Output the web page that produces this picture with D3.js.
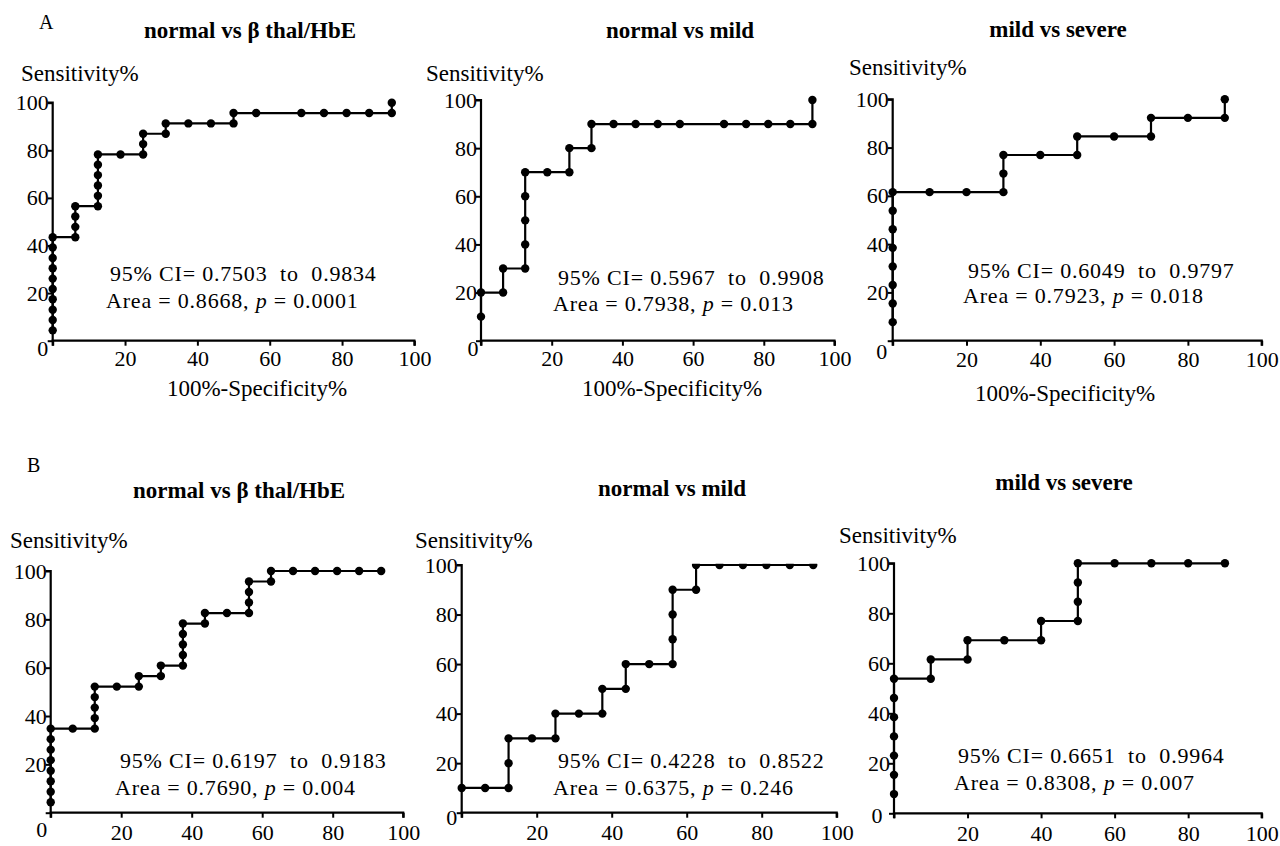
<!DOCTYPE html>
<html>
<head>
<meta charset="utf-8">
<script src="https://cdn.jsdelivr.net/npm/d3@7"></script>
<style>
  html, body { margin: 0; padding: 0; background: #fff; }
  svg { display: block; }
  text { font-family: "Liberation Serif", "Times New Roman", serif; fill: #000; }
</style>
</head>
<body>
<svg id="chart" width="1280" height="846" font-family="Liberation Serif, Times New Roman, serif"></svg>
<script>
// ---------- DATA ----------
const panelTitles = ["normal vs \u03b2 thal/HbE", "normal vs mild", "mild vs severe",
                     "normal vs \u03b2 thal/HbE", "normal vs mild", "mild vs severe"];
const rowLetters = ["A", "B"];
const yAxisTitle = "Sensitivity%";
const xAxisTitle = "100%-Specificity%";
const tickValues = [0, 20, 40, 60, 80, 100];

// 100% - specificity (x) and sensitivity (y) for each ROC curve
const a1Fpr = [0,0,0,0,0,0,0,0,0,0, 6.25,6.25,6.25,6.25, 12.5,12.5,12.5,12.5,12.5,12.5, 18.75, 25,25,25, 31.25,31.25, 37.5, 43.75, 50,50, 56.25, 68.75, 75, 81.25, 87.5, 93.75,93.75];
const a1Tpr = [4.35,8.70,13.04,17.39,21.74,26.09,30.43,34.78,39.13,43.48, 43.48,47.83,52.17,56.52, 56.52,60.87,65.22,69.57,73.91,78.26, 78.26, 78.26,82.61,86.96, 86.96,91.30, 91.30, 91.30, 91.30,95.65, 95.65, 95.65, 95.65, 95.65, 95.65, 95.65,100];

const a2Fpr = [0,0, 6.25,6.25, 12.5,12.5,12.5,12.5,12.5, 18.75, 25,25, 31.25,31.25, 37.5, 43.75, 50, 56.25, 68.75, 75, 81.25, 87.5, 93.75,93.75];
const a2Tpr = [10,20, 20,30, 30,40,50,60,70, 70, 70,80, 80,90, 90, 90, 90, 90, 90, 90, 90, 90, 90,100];

const a3Fpr = [0,0,0,0,0,0,0,0, 10, 20, 30,30,30, 40, 50,50, 60, 70,70, 80, 90,90];
const a3Tpr = [7.69,15.38,23.08,30.77,38.46,46.15,53.85,61.54, 61.54, 61.54, 61.54,69.23,76.92, 76.92, 76.92,84.62, 84.62, 84.62,92.31, 92.31, 92.31,100];

const b1Fpr = [0,0,0,0,0,0,0,0, 6.25, 12.5,12.5,12.5,12.5,12.5, 18.75, 25,25, 31.25,31.25, 37.5,37.5,37.5,37.5,37.5, 43.75,43.75, 50, 56.25,56.25,56.25,56.25, 62.5,62.5, 68.75, 75, 81.25, 87.5, 93.75];
const b1Tpr = [4.35,8.70,13.04,17.39,21.74,26.09,30.43,34.78, 34.78, 34.78,39.13,43.48,47.83,52.17, 52.17, 52.17,56.52, 56.52,60.87, 60.87,65.22,69.57,73.91,78.26, 78.26,82.61, 82.61, 82.61,86.96,91.30,95.65, 95.65,100, 100, 100, 100, 100, 100];

const b2Fpr = [0, 6.25, 12.5,12.5,12.5, 18.75, 25,25, 31.25, 37.5,37.5, 43.75,43.75, 50, 56.25,56.25,56.25,56.25, 62.5,62.5, 68.75, 75, 81.25, 87.5, 93.75];
const b2Tpr = [10, 10, 10,20,30, 30, 30,40, 40, 40,50, 50,60, 60, 60,70,80,90, 90,100, 100, 100, 100, 100, 100];

const b3Fpr = [0,0,0,0,0,0,0, 10,10, 20,20, 30, 40,40, 50,50,50,50, 60, 70, 80, 90];
const b3Tpr = [7.69,15.38,23.08,30.77,38.46,46.15,53.85, 53.85,61.54, 61.54,69.23, 69.23, 69.23,76.92, 76.92,84.62,92.31,100, 100, 100, 100, 100];

const ciLow  = ["0.7503", "0.5967", "0.6049", "0.6197", "0.4228", "0.6651"];
const ciHigh = ["0.9834", "0.9908", "0.9797", "0.9183", "0.8522", "0.9964"];
const areas  = ["0.8668", "0.7938", "0.7923", "0.7690", "0.6375", "0.8308"];
const pVals  = ["0.0001", "0.013", "0.018", "0.004", "0.246", "0.007"];

const fprSets = [a1Fpr, a2Fpr, a3Fpr, b1Fpr, b2Fpr, b3Fpr];
const tprSets = [a1Tpr, a2Tpr, a3Tpr, b1Tpr, b2Tpr, b3Tpr];

// ---------- LAYOUT (pixel geometry of each panel) ----------
const layout = [
  {x0:52.7, x1:414.4, y0:340.7, y1:102.7, tx:250, ty:30, sx:21, sy:73, spx:257, spy:388, ciX:110, ciY:273, arX:106, arY:300, zero:[-10,8], pad:5, clip:false},
  {x0:481,  x1:834.5, y0:340.7, y1:100,   tx:680, ty:30, sx:426, sy:73, spx:672, spy:388, ciX:558, ciY:277, arX:553, arY:303, zero:[-8,8], pad:5, clip:false},
  {x0:892.7,x1:1261.7,y0:340.7, y1:99.3,  tx:1058,ty:29, sx:849, sy:67, spx:1065, spy:393, ciX:968, ciY:270, arX:963, arY:295, zero:[-11,11], pad:6, clip:false},
  {x0:50.7, x1:403.2, y0:812.7, y1:571,   tx:239, ty:490, sx:10, sy:540, spx:null, spy:null, ciX:120, ciY:760, arX:115, arY:787, zero:[-9,17], pad:7, clip:false},
  {x0:461.7,x1:836.7, y0:812.7, y1:565,   tx:672, ty:488, sx:415, sy:540, spx:null, spy:null, ciX:558, ciY:760, arX:553, arY:787, zero:[-10,5], pad:7, clip:true},
  {x0:894,  x1:1261.7,y0:813.3, y1:563.3, tx:1064,ty:482, sx:839, sy:535, spx:null, spy:null, ciX:958, ciY:755, arX:954, arY:782, zero:[-17,2], pad:7, clip:false}
];
const letterPos = [[39, 22], [27, 465]];

// ---------- DRAW ----------
const svg = d3.select("#chart");
const defs = svg.append("defs");
const SERIF = "Liberation Serif, Times New Roman, serif";

rowLetters.forEach((L, i) => {
  svg.append("text").attr("x", letterPos[i][0]).attr("y", letterPos[i][1])
    .attr("dy", "0.35em").attr("font-size", 20).text(L);
});

layout.forEach((p, i) => {
  const x = d3.scaleLinear().domain([0, 100]).range([p.x0, p.x1]);
  const y = d3.scaleLinear().domain([0, 100]).range([p.y0, p.y1]);
  const g = svg.append("g");

  // title
  g.append("text").attr("x", p.tx).attr("y", p.ty).attr("dy", "0.35em")
    .attr("text-anchor", "middle").attr("font-size", 23).attr("font-weight", "bold")
    .text(panelTitles[i]);

  // y axis title
  g.append("text").attr("x", p.sx).attr("y", p.sy).attr("dy", "0.35em")
    .attr("font-size", 23).text(yAxisTitle);

  // x axis title
  if (p.spx !== null) {
    g.append("text").attr("x", p.spx).attr("y", p.spy).attr("dy", "0.35em")
      .attr("text-anchor", "middle").attr("font-size", 23).text(xAxisTitle);
  }

  // axes
  const yAxis = d3.axisLeft(y).tickValues(tickValues).tickSize(5).tickPadding(-1)
    .tickFormat(d => d === 0 ? "" : d);
  const xAxis = d3.axisBottom(x).tickValues(tickValues).tickSize(5).tickPadding(p.pad)
    .tickFormat(d => d === 0 ? "" : d);

  const ya = g.append("g").attr("transform", `translate(${p.x0},0)`).call(yAxis);
  const xa = g.append("g").attr("transform", `translate(0,${p.y0})`).call(xAxis);
  [ya, xa].forEach(a => {
    a.attr("font-family", SERIF).attr("font-size", 22);
    a.select(".domain").attr("stroke", "#000").attr("stroke-width", 2.2);
    a.selectAll(".tick line").attr("stroke", "#000").attr("stroke-width", 2);
    a.selectAll(".tick text").attr("font-size", 22).attr("font-family", SERIF).attr("fill", "#000");
  });
  ya.select(".domain").attr("d", `M-5,${p.y1}H0V${p.y0}`);
  xa.select(".domain").attr("d", `M${p.x0},5V0H${p.x1}V5`);

  // shared zero label
  g.append("text").attr("x", p.x0 + p.zero[0]).attr("y", p.y0 + p.zero[1])
    .attr("dy", "0.35em").attr("text-anchor", "middle").attr("font-size", 22).text("0");

  // curve
  const pts = fprSets[i].map((f, k) => [f, tprSets[i][k]]);
  const cg = g.append("g");
  if (p.clip) {
    const id = "clip" + i;
    defs.append("clipPath").attr("id", id).append("rect")
      .attr("x", p.x0 - 10).attr("y", p.y1 - 1.2).attr("width", p.x1 - p.x0 + 20).attr("height", p.y0 - p.y1 + 20);
    cg.attr("clip-path", `url(#${id})`);
  }
  cg.append("path").datum(pts)
    .attr("fill", "none").attr("stroke", "#000").attr("stroke-width", 2.2)
    .attr("d", d3.line().x(d => x(d[0])).y(d => y(d[1])));
  cg.selectAll("circle").data(pts).join("circle")
    .attr("cx", d => x(d[0])).attr("cy", d => y(d[1])).attr("r", 4.2).attr("fill", "#000");

  // annotations
  g.append("text").attr("x", p.ciX).attr("y", p.ciY).attr("dy", "0.35em")
    .attr("font-size", 22).attr("letter-spacing", 0.8).style("white-space", "pre")
    .text(`95% CI= ${ciLow[i]}  to  ${ciHigh[i]}`);
  const at = g.append("text").attr("x", p.arX).attr("y", p.arY).attr("dy", "0.35em")
    .attr("font-size", 22).attr("letter-spacing", 0.8).style("white-space", "pre");
  at.append("tspan").text(`Area = ${areas[i]}, `);
  at.append("tspan").attr("font-style", "italic").text("p");
  at.append("tspan").text(` = ${pVals[i]}`);
});
</script>
</body>
</html>
